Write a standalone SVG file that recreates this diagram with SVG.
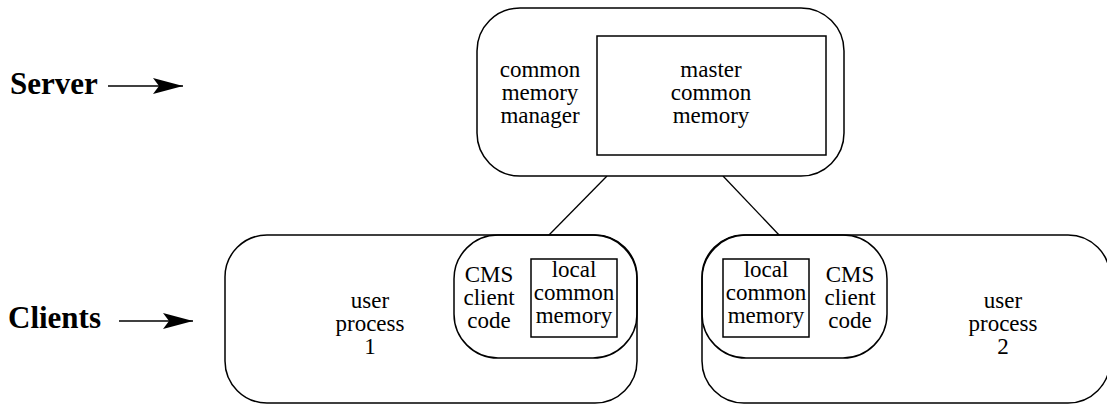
<svg xmlns="http://www.w3.org/2000/svg" width="1107" height="405" viewBox="0 0 1107 405">
<style>
.box{fill:none;stroke:#000;stroke-width:1.5}
.wbox{fill:#fff;stroke:#000;stroke-width:1.5}
text{font-family:'Liberation Serif','DejaVu Serif',serif;fill:#000}
.t{font-size:23px;text-anchor:middle}
.lab{font-size:31px;font-weight:bold}
.conn{stroke:#000;stroke-width:1.3;fill:none}
</style>
<defs>
<marker id="ah" markerWidth="30" markerHeight="16" refX="30" refY="8" orient="auto" markerUnits="userSpaceOnUse">
<path d="M0,0 L30,8 L0,16 L6,8 Z" fill="#000"/>
</marker>
</defs>
<g id="label-server">
<text class="lab" x="10" y="94">Server</text>
<line class="conn" x1="108" y1="86" x2="183" y2="86" marker-end="url(#ah)"/>
</g>
<g id="label-clients">
<text class="lab" x="8" y="328">Clients</text>
<line class="conn" x1="119" y1="321" x2="193" y2="321" marker-end="url(#ah)"/>
</g>
<g id="connectors">
<line class="conn" x1="607" y1="176" x2="548" y2="236"/>
<line class="conn" x1="723" y1="176" x2="780" y2="236"/>
</g>
<g id="server">
<rect class="wbox" x="477" y="8" width="367" height="168" rx="43" ry="43"/>
<rect class="box" x="597" y="36" width="229" height="119"/>
<text class="t" x="540" y="77">common</text>
<text class="t" x="540" y="100">memory</text>
<text class="t" x="540" y="123">manager</text>
<text class="t" x="711" y="77">master</text>
<text class="t" x="711" y="100">common</text>
<text class="t" x="711" y="123">memory</text>
</g>
<g id="client1">
<rect class="wbox" x="225" y="235" width="412" height="168" rx="42" ry="42"/>
<text class="t" x="370" y="308">user</text>
<text class="t" x="370" y="331">process</text>
<text class="t" x="370" y="354">1</text>
</g>
<g id="cms1">
<rect class="box" x="454" y="235" width="183" height="123" rx="44" ry="44"/>
<text class="t" x="489" y="282">CMS</text>
<text class="t" x="489" y="305">client</text>
<text class="t" x="489" y="328">code</text>
</g>
<g id="local1">
<rect class="box" x="531" y="259" width="86" height="78"/>
<text class="t" x="574" y="277">local</text>
<text class="t" x="574" y="300">common</text>
<text class="t" x="574" y="323">memory</text>
</g>
<g id="client2">
<rect class="wbox" x="702" y="235" width="408" height="168" rx="42" ry="42"/>
<text class="t" x="1003" y="308">user</text>
<text class="t" x="1003" y="331">process</text>
<text class="t" x="1003" y="354">2</text>
</g>
<g id="cms2">
<rect class="box" x="702" y="235" width="185" height="123" rx="44" ry="44"/>
<text class="t" x="850" y="282">CMS</text>
<text class="t" x="850" y="305">client</text>
<text class="t" x="850" y="328">code</text>
</g>
<g id="local2">
<rect class="box" x="723" y="259" width="86" height="78"/>
<text class="t" x="766" y="277">local</text>
<text class="t" x="766" y="300">common</text>
<text class="t" x="766" y="323">memory</text>
</g>
</svg>
